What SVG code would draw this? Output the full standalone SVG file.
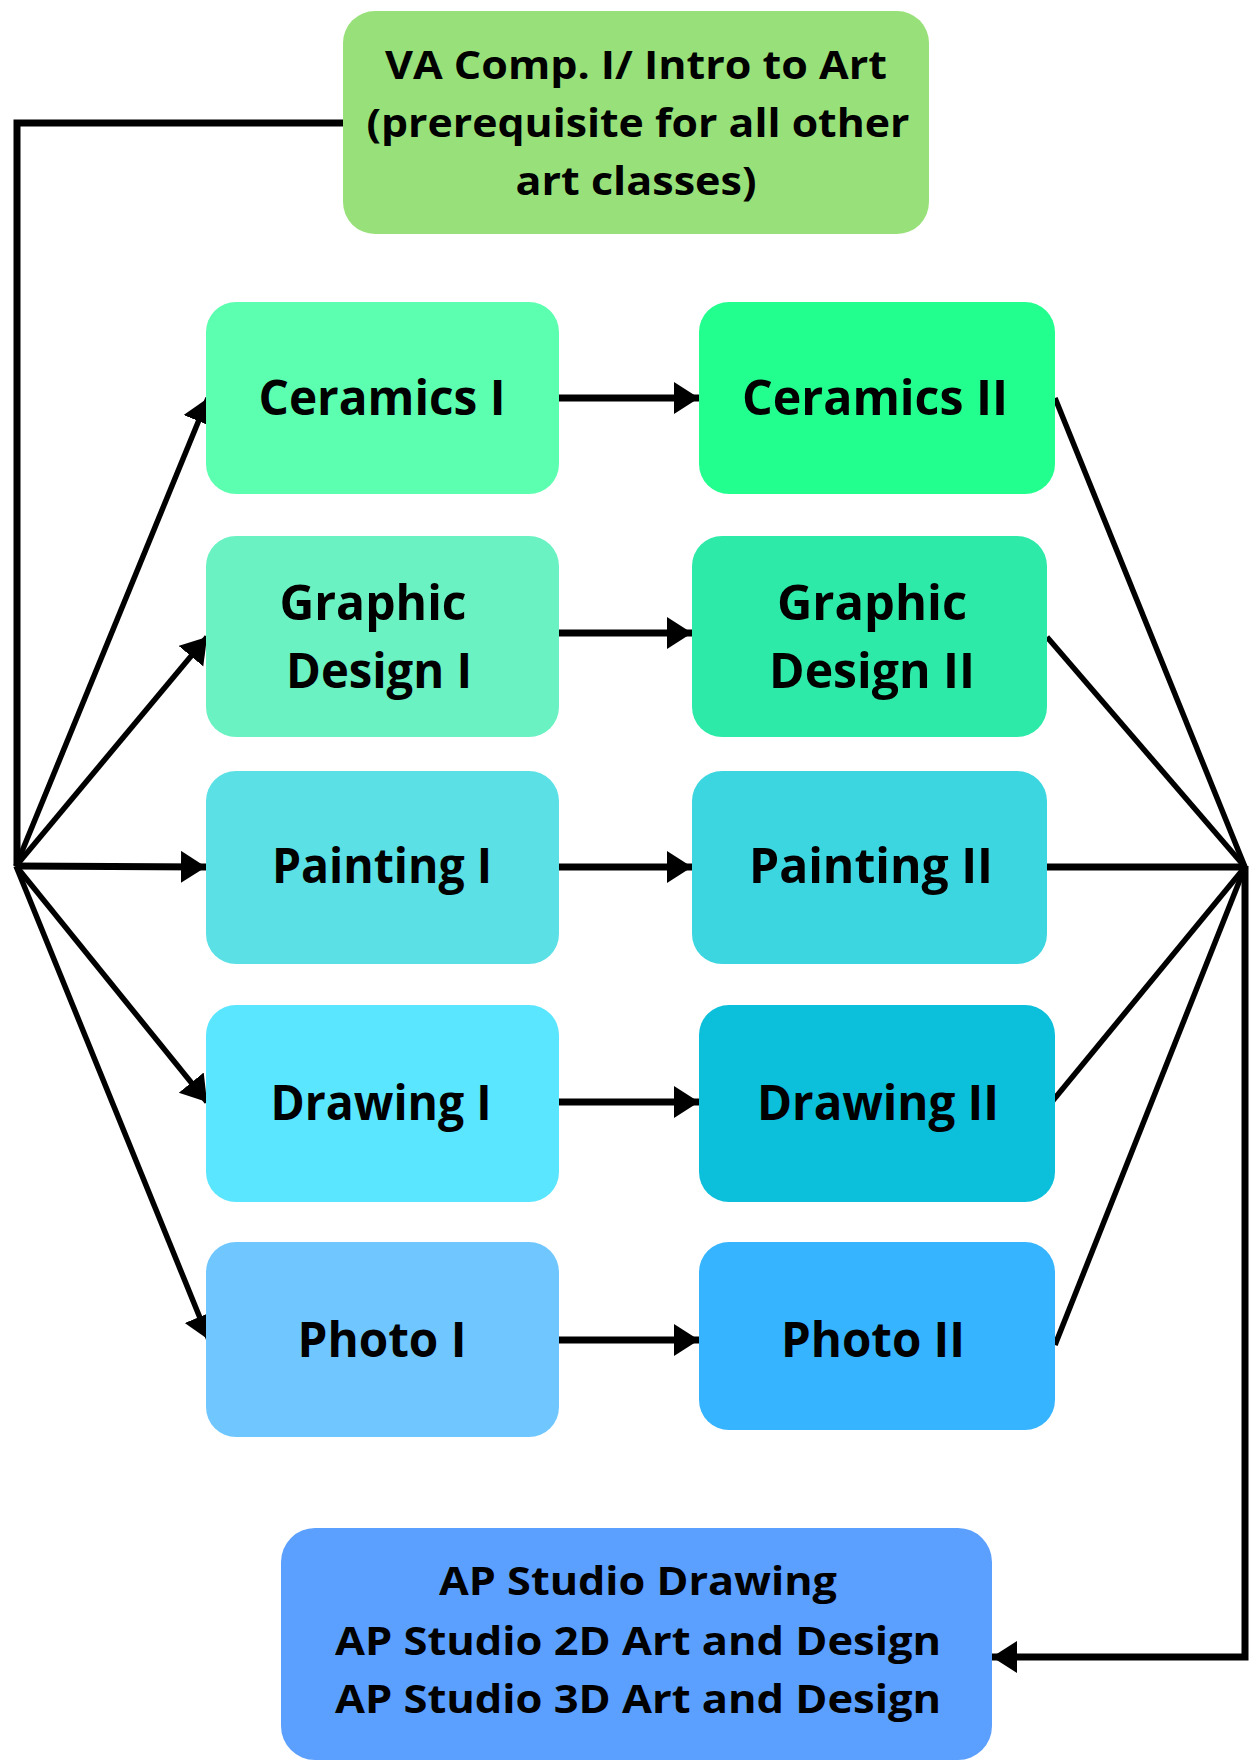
<svg xmlns="http://www.w3.org/2000/svg" width="1252" height="1762" viewBox="0 0 1252 1762">
<style>
.t{font-family:"Open Sans","Liberation Sans",sans-serif;font-weight:700;fill:#000;text-anchor:middle}
.l{font-size:48px}
.s{font-size:40px}
.c{stroke:#000;stroke-width:7;fill:none;stroke-linecap:butt;stroke-linejoin:miter}
.d{stroke:#000;stroke-width:5.5;fill:none}
</style>
<defs>
<marker id="ah" markerUnits="userSpaceOnUse" markerWidth="26" markerHeight="34" refX="25" refY="16" orient="auto" viewBox="0 0 26 34">
<path d="M0,0 L25,16 L0,32 Z" fill="#000"/>
</marker>
</defs>
<rect width="1252" height="1762" fill="#fff"/>
<g id="connectors">
<polyline class="c" points="343,123 17,123 17,866"/>
<line class="d" x1="16" y1="866" x2="208" y2="398" marker-end="url(#ah)"/>
<line class="d" x1="16" y1="866" x2="207" y2="637" marker-end="url(#ah)"/>
<line class="c" x1="16" y1="866" x2="206" y2="867" marker-end="url(#ah)"/>
<line class="d" x1="16" y1="866" x2="207" y2="1102" marker-end="url(#ah)"/>
<line class="d" x1="16" y1="866" x2="209" y2="1340" marker-end="url(#ah)"/>
<line class="c" x1="559" y1="398" x2="699" y2="398" marker-end="url(#ah)"/>
<line class="c" x1="559" y1="633" x2="692" y2="633" marker-end="url(#ah)"/>
<line class="c" x1="559" y1="867" x2="692" y2="867" marker-end="url(#ah)"/>
<line class="c" x1="559" y1="1102" x2="699" y2="1102" marker-end="url(#ah)"/>
<line class="c" x1="559" y1="1340" x2="699" y2="1340" marker-end="url(#ah)"/>
<line class="d" x1="1055" y1="398" x2="1245" y2="867"/>
<line class="d" x1="1047" y1="637" x2="1245" y2="867"/>
<line class="c" x1="1047" y1="867" x2="1245" y2="867"/>
<line class="d" x1="1046" y1="1109" x2="1245" y2="867"/>
<line class="d" x1="1055" y1="1345" x2="1245" y2="867"/>
<polyline class="c" points="1245,866 1245,1657 992,1657" marker-end="url(#ah)"/>
</g>
<g id="intro">
<rect x="343" y="11" width="586" height="223" rx="32" fill="#98E17A"/>
<text class="t s" x="636" y="79" textLength="502" lengthAdjust="spacingAndGlyphs">VA Comp. I/ Intro to Art</text>
<text class="t s" x="638" y="137" textLength="543" lengthAdjust="spacingAndGlyphs">(prerequisite for all other</text>
<text class="t s" x="636" y="195" textLength="241" lengthAdjust="spacingAndGlyphs">art classes)</text>
</g>
<g id="ceramics1">
<rect x="206" y="302" width="353" height="192" rx="30" fill="#5CFFB0"/>
<text class="t l" x="382" y="415" textLength="247" lengthAdjust="spacingAndGlyphs">Ceramics I</text>
</g>
<g id="ceramics2">
<rect x="699" y="302" width="356" height="192" rx="30" fill="#22FF8E"/>
<text class="t l" x="875" y="415" textLength="266" lengthAdjust="spacingAndGlyphs">Ceramics II</text>
</g>
<g id="graphic1">
<rect x="206" y="536" width="353" height="201" rx="30" fill="#6BF2C3"/>
<text class="t l" x="373" y="620" textLength="187" lengthAdjust="spacingAndGlyphs">Graphic</text>
<text class="t l" x="379" y="688" textLength="186" lengthAdjust="spacingAndGlyphs">Design I</text>
</g>
<g id="graphic2">
<rect x="692" y="536" width="355" height="201" rx="30" fill="#2EEAA9"/>
<text class="t l" x="872" y="620" textLength="190" lengthAdjust="spacingAndGlyphs">Graphic</text>
<text class="t l" x="872" y="688" textLength="206" lengthAdjust="spacingAndGlyphs">Design II</text>
</g>
<g id="painting1">
<rect x="206" y="771" width="353" height="193" rx="30" fill="#5BE1E5"/>
<text class="t l" x="382" y="883" textLength="220" lengthAdjust="spacingAndGlyphs">Painting I</text>
</g>
<g id="painting2">
<rect x="692" y="771" width="355" height="193" rx="30" fill="#3CD6E0"/>
<text class="t l" x="871" y="883" textLength="244" lengthAdjust="spacingAndGlyphs">Painting II</text>
</g>
<g id="drawing1">
<rect x="206" y="1005" width="353" height="197" rx="30" fill="#5AE6FF"/>
<text class="t l" x="381" y="1120" textLength="221" lengthAdjust="spacingAndGlyphs">Drawing I</text>
</g>
<g id="drawing2">
<rect x="699" y="1005" width="356" height="197" rx="30" fill="#0CBFDA"/>
<text class="t l" x="878" y="1120" textLength="242" lengthAdjust="spacingAndGlyphs">Drawing II</text>
</g>
<g id="photo1">
<rect x="206" y="1242" width="353" height="195" rx="30" fill="#70C7FF"/>
<text class="t l" x="382" y="1357" textLength="169" lengthAdjust="spacingAndGlyphs">Photo I</text>
</g>
<g id="photo2">
<rect x="699" y="1242" width="356" height="188" rx="30" fill="#36B4FF"/>
<text class="t l" x="873" y="1357" textLength="184" lengthAdjust="spacingAndGlyphs">Photo II</text>
</g>
<g id="ap">
<rect x="281" y="1528" width="711" height="232" rx="34" fill="#5B9FFF"/>
<text class="t s" x="638" y="1595" textLength="398" lengthAdjust="spacingAndGlyphs">AP Studio Drawing</text>
<text class="t s" x="638" y="1655" textLength="606" lengthAdjust="spacingAndGlyphs">AP Studio 2D Art and Design</text>
<text class="t s" x="638" y="1713" textLength="606" lengthAdjust="spacingAndGlyphs">AP Studio 3D Art and Design</text>
</g>
</svg>
